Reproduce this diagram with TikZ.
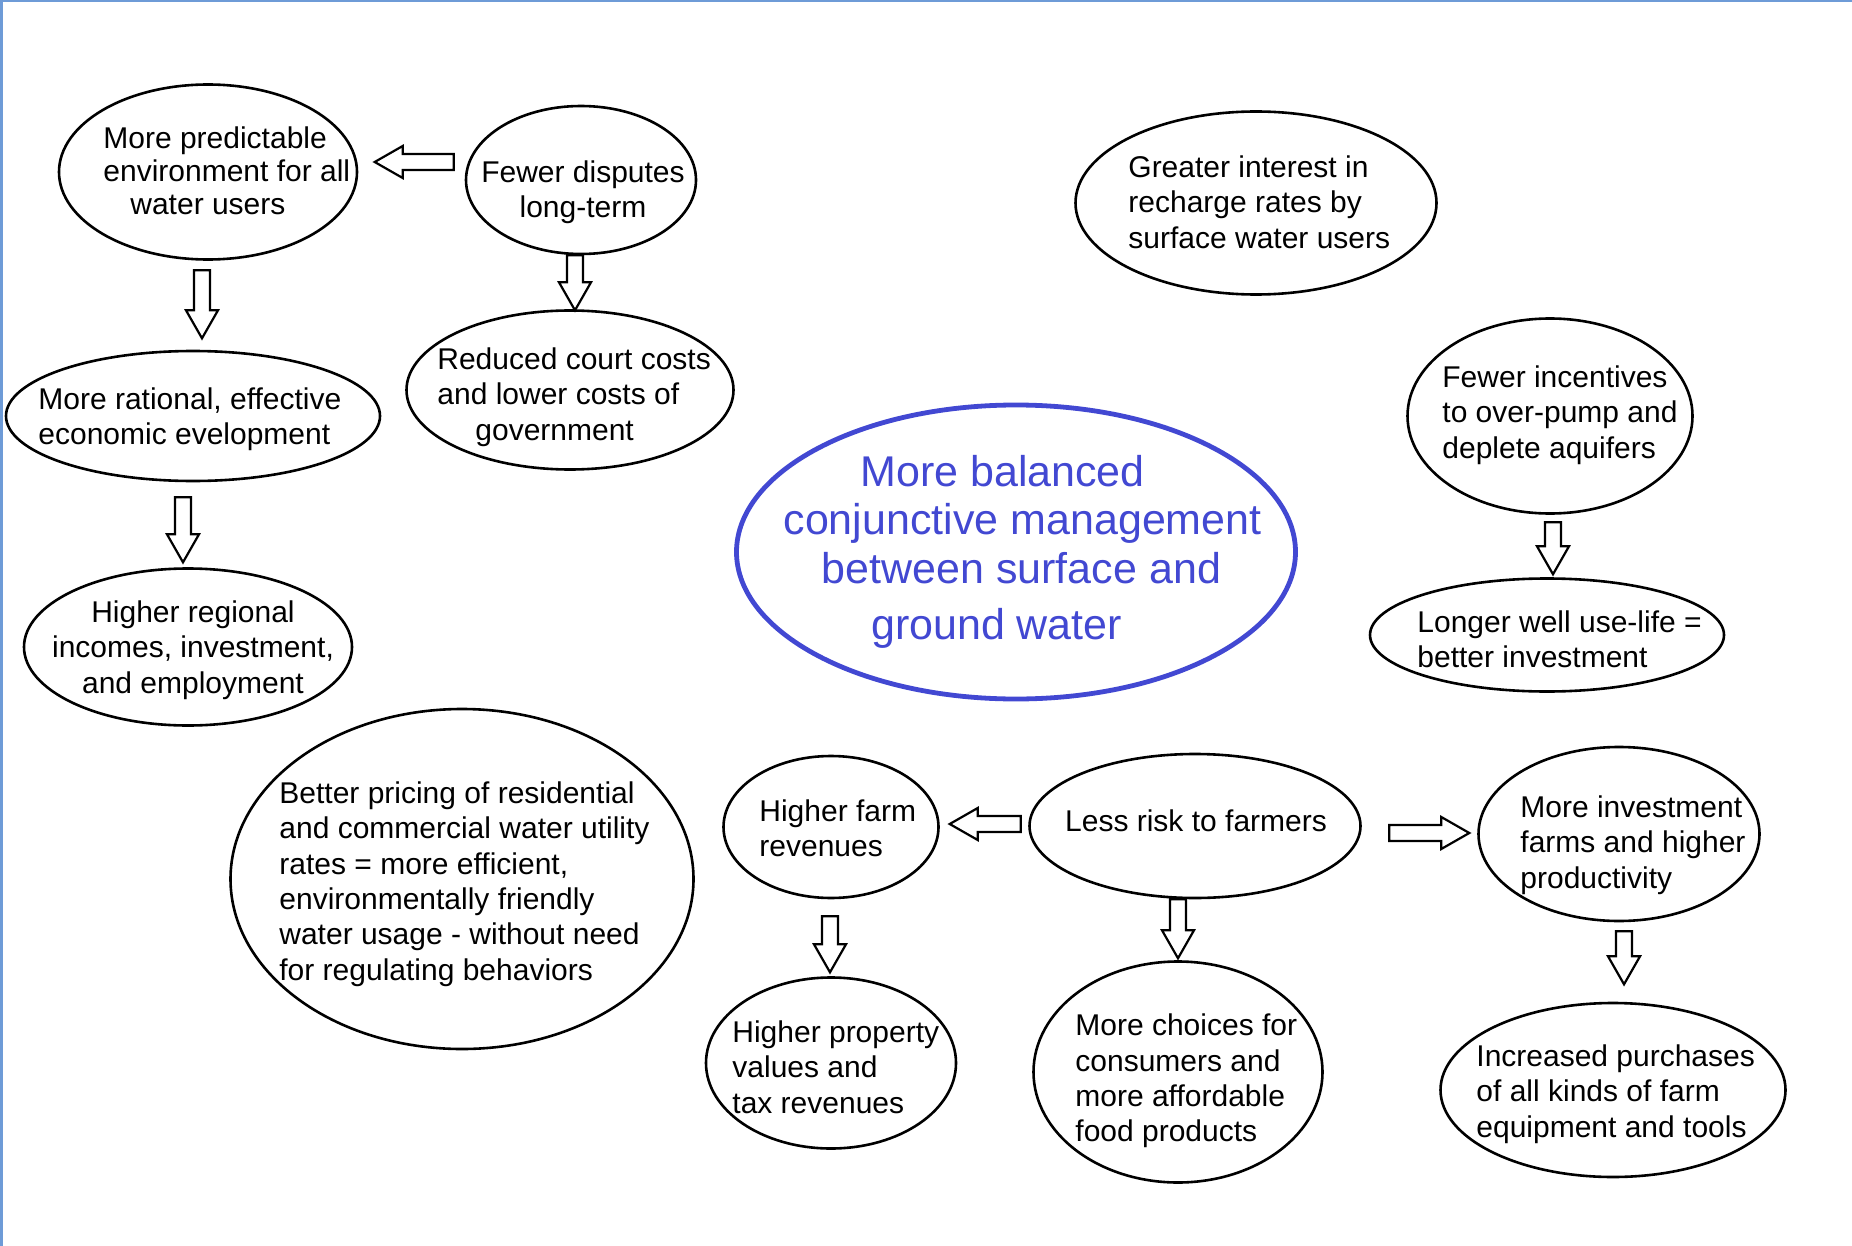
\documentclass[tikz,border=0pt]{standalone}
\usepackage{fontspec}
\setmainfont{Liberation Sans}
\usetikzlibrary{shapes.geometric,calc}
\definecolor{cblue}{RGB}{66,72,210}
\definecolor{frameblue}{RGB}{110,155,215}
\begin{document}
\begin{tikzpicture}[x=0.5pt,y=-0.5pt,
  bub/.style={ellipse,draw,line width=1.3pt,inner sep=0pt},
  txt/.style={inner sep=0pt,font=\fontsize{15}{17.7}\selectfont,text=black},
  pics/barrow/.style={code={\draw[line width=1.1pt,fill=white] (0,-8) -- (#1-28,-8) -- (#1-28,-16) -- (#1,0) -- (#1-28,16) -- (#1-28,8) -- (0,8) -- cycle;}}
]
\useasboundingbox (0,0) rectangle (1852,1246);
\draw[frameblue,line width=1.5pt] (0,1) -- (1852,1);
\draw[frameblue,line width=1.5pt] (1,0) -- (1,1246);

% ellipses
\node[bub,minimum width=149pt,minimum height=87.5pt] (e1) at (208,172) {};
\node[bub,minimum width=115pt,minimum height=74pt] (e2) at (581,180) {};
\node[bub,minimum width=163.5pt,minimum height=79.5pt] (e3) at (570,390) {};
\node[bub,minimum width=187pt,minimum height=65pt] (e4) at (193,416) {};
\node[bub,minimum width=164pt,minimum height=78.5pt] (e5) at (188,647) {};
\node[bub,minimum width=231.5pt,minimum height=170pt] (e6) at (462,879) {};
\node[bub,draw=cblue,line width=2.4pt,minimum width=279.5pt,minimum height=147pt] (ec) at (1016,552) {};
\node[bub,minimum width=180.5pt,minimum height=91.5pt] (e7) at (1256,203) {};
\node[bub,minimum width=142.5pt,minimum height=97.5pt] (e8) at (1550,416) {};
\node[bub,minimum width=177pt,minimum height=56.5pt] (e9) at (1547,635) {};
\node[bub,minimum width=107.5pt,minimum height=71pt] (e10) at (831,827) {};
\node[bub,minimum width=165.5pt,minimum height=72pt] (e11) at (1195,826) {};
\node[bub,minimum width=140.5pt,minimum height=87pt] (e12) at (1619,834) {};
\node[bub,minimum width=125pt,minimum height=85.5pt] (e13) at (831,1063) {};
\node[bub,minimum width=144.5pt,minimum height=110.5pt] (e14) at (1178,1072) {};
\node[bub,minimum width=172.5pt,minimum height=87pt] (e15) at (1613,1090) {};

% texts
\node[txt,align=left,anchor=west,font=\fontsize{15}{16.5}\selectfont] (t1) at (103,171) {More predictable\\environment for all\\\hspace*{13.5pt}water users};
\node[txt,align=center] (t2) at (583,192) {Fewer disputes\\long-term};
\node[txt,align=left,anchor=west] (t3) at (437,397) {Reduced court costs\\and lower costs of\\\hspace*{19pt}government};
\node[txt,align=left,anchor=west] (t4) at (38,419) {More rational, effective\\economic evelopment};
\node[txt,align=center] (t5) at (193,650) {Higher regional\\incomes, investment,\\and employment};
\node[txt,align=left,anchor=west] (t6) at (279,884) {Better pricing of residential\\and commercial water utility\\rates = more efficient,\\environmentally friendly\\water usage - without need\\for regulating behaviors};
\node[inner sep=0pt,align=center,text=cblue,font=\fontsize{21.5}{24.2}\selectfont] (tc) at (1012,552) {More balanced\hspace*{9.4pt}\\\hspace*{10.6pt}conjunctive management\\\hspace*{9.4pt}between surface and\\[4pt]ground water\hspace*{15.4pt}};
\node[txt,align=left,anchor=west] (t7) at (1128,202) {Greater interest in\\recharge rates by\\surface water users};
\node[txt,align=left,anchor=west] (t8) at (1442,415) {Fewer incentives\\to over-pump and\\deplete aquifers};
\node[txt,align=left,anchor=west] (t9) at (1417,639) {Longer well use-life =\\better investment};
\node[txt,align=left,anchor=west] (t10) at (759,828) {Higher farm\\revenues};
\node[txt,align=center] (t11) at (1196,821) {Less risk to farmers};
\node[txt,align=left,anchor=west] (t12) at (1520,845) {More investment\\farms and higher\\productivity};
\node[txt,align=left,anchor=west] (t13) at (732,1067) {Higher property\\values and\\tax revenues};
\node[txt,align=left,anchor=west] (t14) at (1075,1081) {More choices for\\consumers and\\more affordable\\food products};
\node[txt,align=left,anchor=west] (t15) at (1476,1094) {Increased purchases\\of all kinds of farm\\equipment and tools};

% block arrows
\pic[rotate=-90] (a1) at ($(e1.south)+(-6,9.5)$) {barrow=68};
\pic[rotate=-90] (a2) at ($(e2.south)+(-6,0)$) {barrow=55};
\pic[rotate=-90] (a3) at ($(e4.south)+(-10,15)$) {barrow=65};
\pic[rotate=180] (a4) at ($(e2.west)+(-11,-18)$) {barrow=79};
\pic[rotate=-90] (a5) at ($(e8.south)+(3,7.5)$) {barrow=52};
\pic[rotate=180] (a6) at ($(e11.west)+(-7.5,-2)$) {barrow=71};
\pic (a7) at ($(e11.east)+(27.5,7)$) {barrow=80};
\pic[rotate=-90] (a8) at ($(e10.south)+(-1,17)$) {barrow=56};
\pic[rotate=-90] (a9) at ($(e11.south)+(-17,0)$) {barrow=59};
\pic[rotate=-90] (a10) at ($(e12.south)+(5,9)$) {barrow=53};
\end{tikzpicture}
\end{document}
